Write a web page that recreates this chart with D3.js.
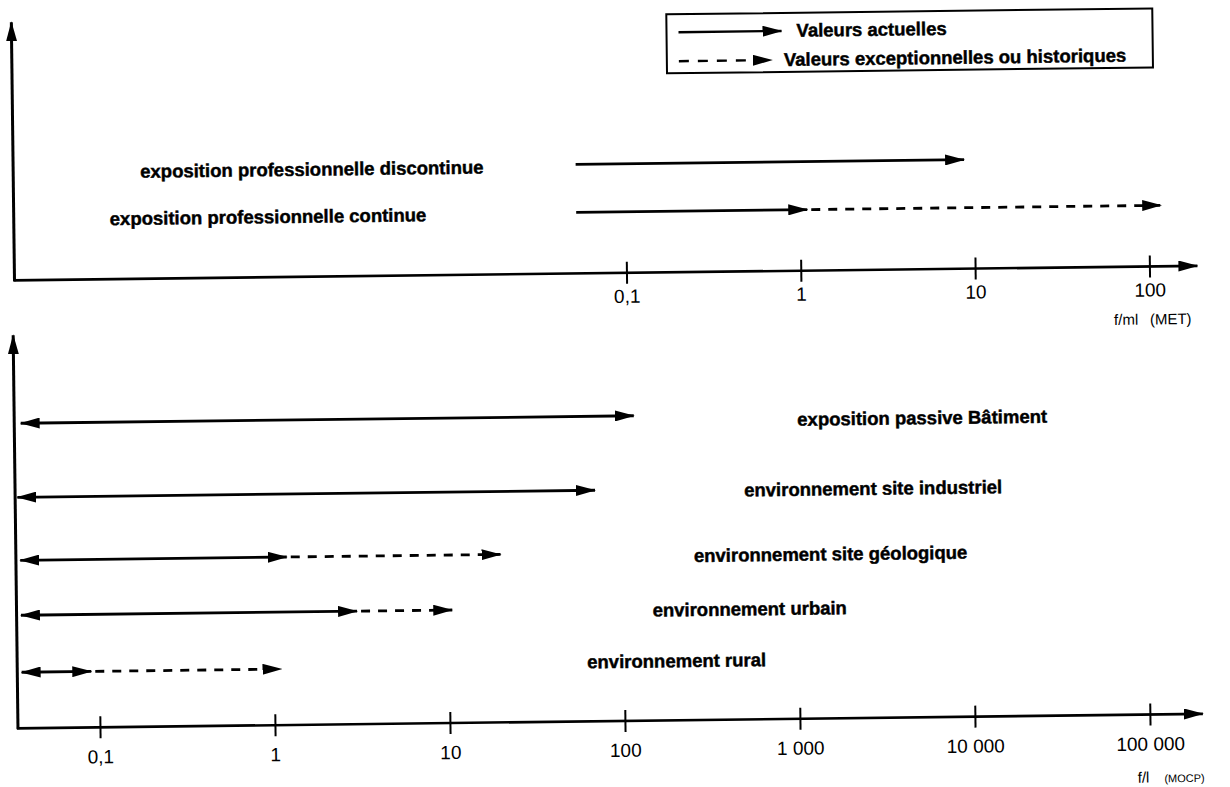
<!DOCTYPE html>
<html>
<head>
<meta charset="utf-8">
<script src="https://cdn.jsdelivr.net/npm/d3@7"></script>
<style>
  body { margin: 0; background: #fff; }
  text { font-family: "Liberation Sans", Arial, sans-serif; fill: #000; }
  .lab { font-weight: bold; font-size: 18.5px; stroke: #000; stroke-width: 0.45px; }
  .tick text { font-size: 19px; }
</style>
</head>
<body>
<script>
// top panel (f/ml, MET)
const topLabels = ['exposition professionnelle discontinue', 'exposition professionnelle continue'];
const topStart = [0.052, 0.052];
const topSolidEnd = [8.8, 1.1];
const topDashEnd = [null, 118];
const topTicks = [0.1, 1, 10, 100];
const topTickLabels = ['0,1', '1', '10', '100'];

// bottom panel (f/l, MOCP)
const botLabels = ['exposition passive Bâtiment', 'environnement site industriel',
  'environnement site géologique', 'environnement urbain', 'environnement rural'];
const botStart = [0.037, 0.035, 0.036, 0.036, 0.036];
const botSolidEnd = [118, 70, 1.2, 3.0, 0.09];
const botDashEnd = [null, null, 20, 10.5, 1.1];
const botTicks = [0.1, 1, 10, 100, 1000, 10000, 100000];
const botTickLabels = ['0,1', '1', '10', '100', '1 000', '10 000', '100 000'];

const legendLabels = ['Valeurs actuelles', 'Valeurs exceptionnelles ou historiques'];

const width = 1230, height = 787;
const svg = d3.select('body').append('svg')
  .attr('width', width).attr('height', height);

// arrow heads
svg.append('defs').append('marker').attr('id', 'head')
  .attr('viewBox', '0 0 20 11').attr('refX', 19).attr('refY', 5.5)
  .attr('markerWidth', 20).attr('markerHeight', 11)
  .attr('markerUnits', 'userSpaceOnUse').attr('orient', 'auto-start-reverse')
  .append('path').attr('d', 'M0,0L20,5.5L0,11Z').attr('fill', '#000');

// the original is a slightly skewed scan, so the whole drawing is turned a bit
const g = svg.append('g').attr('transform', 'rotate(-0.7,615,400)');

const xTop = d3.scaleLog().domain([0.1, 100]).range([628, 1151]);
const xBot = d3.scaleLog().domain([0.1, 100000]).range([96, 1146]);

function panel(x, ticks, tickLabels, axisY, x0, yTop, labelDy) {
  // y axis with arrow
  g.append('line').attr('x1', x0).attr('x2', x0).attr('y1', axisY + 1).attr('y2', yTop)
    .attr('stroke', '#000').attr('stroke-width', 3).attr('marker-end', 'url(#head)');
  // x axis with arrow
  g.append('line').attr('x1', x0 - 1).attr('x2', 1199).attr('y1', axisY).attr('y2', axisY)
    .attr('stroke', '#000').attr('stroke-width', 2.6).attr('marker-end', 'url(#head)');
  const ax = d3.axisBottom(x).tickValues(ticks)
    .tickFormat((d, i) => tickLabels[i]).tickSize(11);
  const a = g.append('g').attr('transform', `translate(0,${axisY})`).call(ax);
  a.select('.domain').remove();
  a.selectAll('.tick line').attr('y1', -11).attr('stroke-width', 2);
  a.selectAll('.tick text').attr('font-family', null).attr('font-size', null)
    .attr('dy', null).attr('y', labelDy);
}

function rows(x, labels, start, solidEnd, dashEnd, rowY, labelX, labelY, both) {
  labels.forEach((lab, i) => {
    const y = rowY[i];
    g.append('line').attr('x1', x(start[i])).attr('x2', x(solidEnd[i]))
      .attr('y1', y).attr('y2', y).attr('stroke', '#000').attr('stroke-width', 2.8)
      .attr('marker-end', 'url(#head)')
      .attr('marker-start', both ? 'url(#head)' : null);
    if (dashEnd[i] != null) {
      g.append('line').attr('x1', x(solidEnd[i]) + 4).attr('x2', x(dashEnd[i]))
        .attr('y1', y).attr('y2', y).attr('stroke', '#000').attr('stroke-width', 2.8)
        .attr('stroke-dasharray', '9,8').attr('marker-end', 'url(#head)');
    }
    g.append('text').attr('class', 'lab').attr('x', labelX[i]).attr('y', labelY[i]).text(lab);
  });
}

panel(xTop, topTicks, topTickLabels, 273, 16, 15, 30);
rows(xTop, topLabels, topStart, topSolidEnd, topDashEnd, [164, 212],
  [143, 112], [172, 219], false);

panel(xBot, botTicks, botTickLabels, 721, 14, 328, 36);
rows(xBot, botLabels, botStart, botSolidEnd, botDashEnd, [416, 490, 553, 608, 665],
  [797, 743, 692, 650, 584], [428, 498, 563, 617, 668], true);

// units
g.append('text').attr('x', 1115).attr('y', 331).style('font-size', '15px')
  .text('f/ml\u2002 (MET)');
const u = g.append('text').attr('x', 1133).attr('y', 789).style('font-size', '15px')
  .text('f/l\u2003');
u.append('tspan').style('font-size', '11px').text('(MOCP)');

// legend
const lg = g.append('g');
lg.append('rect').attr('x', 671).attr('y', 15).attr('width', 486).attr('height', 59)
  .attr('fill', 'none').attr('stroke', '#000').attr('stroke-width', 2);
legendLabels.forEach((t, i) => {
  const y = 33 + i * 29;
  lg.append('line').attr('x1', 683).attr('x2', i ? 776 : 786).attr('y1', y).attr('y2', y)
    .attr('stroke', '#000').attr('stroke-width', 2.4)
    .attr('stroke-dasharray', i ? '10,9' : null).attr('marker-end', 'url(#head)');
  lg.append('text').attr('class', 'lab').attr('x', i ? 788 : 801).attr('y', y + 6).text(t);
});
</script>
</body>
</html>
